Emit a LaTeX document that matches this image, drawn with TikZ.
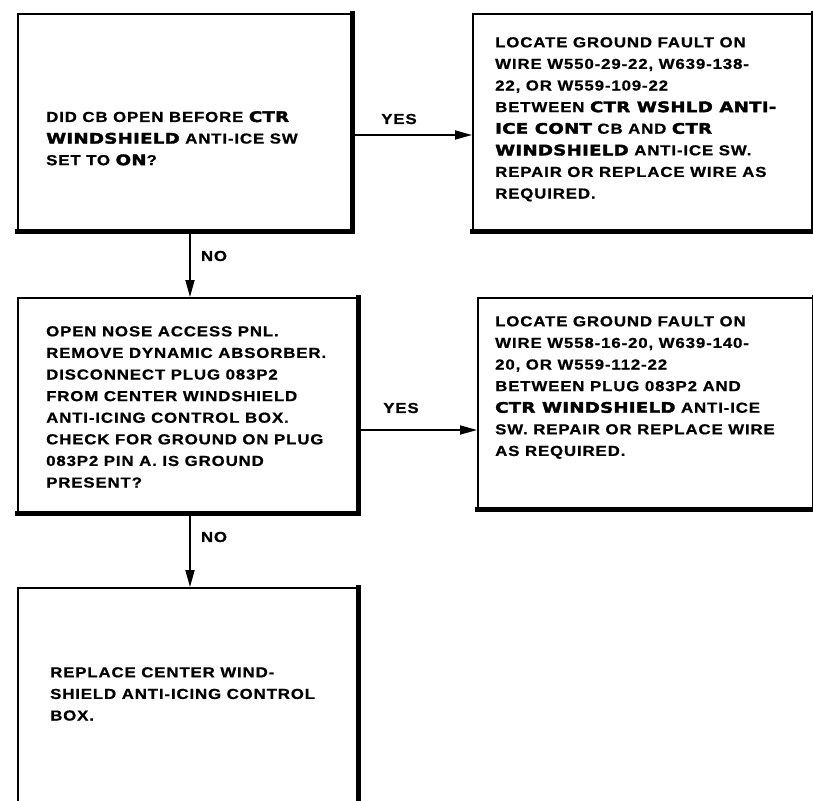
\documentclass[tikz,border=0pt]{standalone}
\usepackage{fontspec}
\usetikzlibrary{arrows.meta}
\newfontfamily\basefont{Liberation Sans}[FakeStretch=1.16,LetterSpace=6,BoldFeatures={FakeBold=0.8}]
\newfontfamily\heavyfont{DejaVu Sans}[FakeStretch=1.25,LetterSpace=2,BoldFeatures={FakeBold=2.5}]
\newcommand{\hvy}[1]{{\heavyfont\bfseries #1}}
\tikzset{
  boxshape/.style={draw=black,line width=1.8pt,rectangle,inner sep=0pt,anchor=north west},
  boxtext/.style={anchor=north west,inner sep=0pt,align=left,
    font=\basefont\bfseries\fontsize{14.5}{21.6}\selectfont},
  lbl/.style={inner sep=0pt,font=\basefont\bfseries\fontsize{14.5}{21.6}\selectfont},
  conn/.style={line width=1.8pt,-{Triangle[length=17pt,width=9pt]}},
  shadowline/.style={line width=4.8pt,line cap=rect}
}
\begin{document}
\begin{tikzpicture}[x=1pt,y=-1pt]
\useasboundingbox (0,0) rectangle (813,800);
\clip (0,0) rectangle (813,800);
\fill[white] (0,0) rectangle (813,800);
% boxes
\node[boxshape,minimum width=334pt,minimum height=217pt] (b1) at (17,13) {};
\node[boxshape,minimum width=340pt,minimum height=217pt] (b2) at (472,13) {};
\node[boxshape,minimum width=340pt,minimum height=215pt] (b3) at (17,297) {};
\node[boxshape,minimum width=336pt,minimum height=211pt] (b4) at (477,297) {};
\node[boxshape,minimum width=340pt,minimum height=240pt] (b5) at (17,587) {};
% heavy right/bottom edges
\foreach \b in {b1,b2,b3,b4,b5}{
  \draw[shadowline] (\b.north east) -- (\b.south east) -- (\b.south west);
}
% texts
\node[boxtext] (t1) at (46,111) {DID CB OPEN BEFORE \hvy{CTR}\\
\hvy{WINDSHIELD} ANTI-ICE SW\\
SET TO \hvy{ON}?};
\node[boxtext] (t2) at (495,37) {LOCATE GROUND FAULT ON\\
WIRE W550-29-22, W639-138-\\
22, OR W559-109-22\\
BETWEEN \hvy{CTR WSHLD ANTI-}\\
\hvy{ICE CONT} CB AND \hvy{CTR}\\
\hvy{WINDSHIELD} ANTI-ICE SW.\\
REPAIR OR REPLACE WIRE AS\\
REQUIRED.};
\node[boxtext] (t3) at (46,326) {OPEN NOSE ACCESS PNL.\\
REMOVE DYNAMIC ABSORBER.\\
DISCONNECT PLUG 083P2\\
FROM CENTER WINDSHIELD\\
ANTI-ICING CONTROL BOX.\\
CHECK FOR GROUND ON PLUG\\
083P2 PIN A. IS GROUND\\
PRESENT?};
\node[boxtext] (t4) at (495,316) {LOCATE GROUND FAULT ON\\
WIRE W558-16-20, W639-140-\\
20, OR W559-112-22\\
BETWEEN PLUG 083P2 AND\\
\hvy{CTR WINDSHIELD} ANTI-ICE\\
SW. REPAIR OR REPLACE WIRE\\
AS REQUIRED.};
\node[boxtext] (t5) at (50,667) {REPLACE CENTER WIND-\\
SHIELD ANTI-ICING CONTROL\\
BOX.};
% connectors
\coordinate (y1s) at (b1.east |- 0,135);
\coordinate (y1e) at (b2.west |- 0,135);
\draw[conn] (y1s) -- (y1e);
\node[lbl] (yes1) at (399,119) {YES};
\coordinate (y2s) at (b3.east |- 0,430);
\coordinate (y2e) at (b4.west |- 0,430);
\draw[conn] (y2s) -- (y2e);
\node[lbl] (yes2) at (401,408) {YES};
\coordinate (n1s) at (b1.south west -| 190,0);
\coordinate (n1e) at (b3.north west -| 190,0);
\draw[conn] (n1s) -- (n1e);
\node[lbl] (no1) at (214,256) {NO};
\coordinate (n2s) at (b3.south west -| 190,0);
\coordinate (n2e) at (b5.north west -| 190,0);
\draw[conn] (n2s) -- (n2e);
\node[lbl] (no2) at (214,537) {NO};
\end{tikzpicture}
\end{document}
